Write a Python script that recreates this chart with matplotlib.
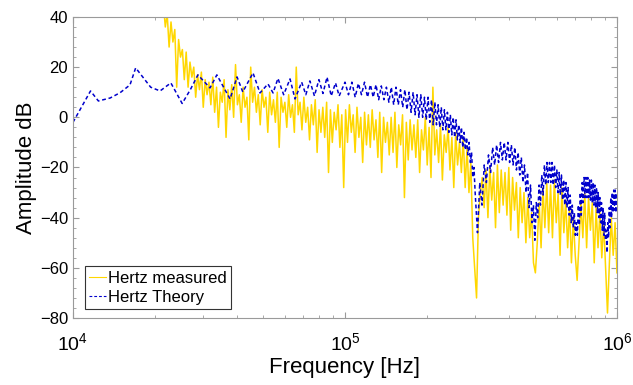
import numpy as np
import matplotlib
matplotlib.use("Agg")
import matplotlib.pyplot as plt
from matplotlib.ticker import AutoMinorLocator, LogLocator, NullFormatter

plt.rcParams['font.family'] = ['Liberation Sans', 'DejaVu Sans']

# theory: low-frequency part, read peak by peak (kHz, dB)
theory_f_low = [10, 11.6, 12.4, 13.7, 14.9, 16.2, 17.0, 19.3, 20.9, 22.9, 25.2, 27.0,
                28.8, 31.9, 33.8, 37.8, 40.1, 42.1, 45.9, 48.7, 52.1, 54.4, 56.7, 59.5,
                62.8, 65.5, 69.3, 71.8, 74.3, 77.2, 80.2, 83.0, 85.9, 89.0, 92.3, 95.2]
theory_db_low = [-2, 10.5, 6.5, 7.7, 9.8, 12.9, 19.7, 12, 10.5, 13.7, 5.5, 11,
                 16.9, 11.7, 16.9, 7.3, 16.1, 10.1, 17.7, 9.7, 13.3, 9.7, 15.5, 9,
                 15.3, 7.3, 14, 9, 14.5, 8.5, 15, 9.5, 16, 8.5, 13.7, 8.5]

# theory: 100-298 kHz, 3 kHz bins (upper / lower of the ripple)
theory_f_mid = np.arange(100, 299, 3)
theory_db_mid = [14, 9, 14, 8, 13.5, 9, 14, 8, 13, 8, 13, 7, 12.5, 7, 12, 6, 12, 5, 12, 5,
                 11, 4, 11, 3, 10, 2, 10, 1, 9, 0, 9, 0, 8, -1, 8, -2, 7, -3, 6, -3,
                 5, -4, 4, -5, 3, -5, 2, -6, 1, -7, 0, -8, -1, -9, -3, -10, -4, -12, -6, -13,
                 -8, -15, -10, -18, -14, -24, -20]

# theory: 301-997 kHz, 6 kHz bins
theory_f_high = np.arange(301, 998, 6)
theory_db_high = [-30, -46, -26, -35, -19, -26, -15, -22, -12, -19,
                  -11, -18, -10, -17, -10, -17, -10, -18, -11, -19,
                  -12, -21, -14, -23, -16, -26, -19, -30, -22, -36,
                  -27, -42, -35, -49, -34, -40, -27, -35, -23, -31,
                  -19, -27, -18, -26, -18, -26, -18, -27, -19, -28,
                  -21, -30, -22, -31, -23, -33, -25, -35, -26, -36,
                  -28, -39, -31, -42, -35, -44, -38, -47, -42, -47,
                  -35, -43, -30, -39, -26, -34, -24, -32, -24, -32,
                  -24, -32, -25, -33, -25, -34, -26, -35, -27, -36,
                  -28, -38, -30, -40, -32, -42, -34, -45, -36, -47,
                  -38, -49, -45, -54, -42, -48, -36, -44, -32, -40,
                  -30, -38, -29, -37, -29, -38, -30]

# measured: 240 bins, log spaced 21.5 kHz .. 1 MHz
meas_db = [45, 36, 41, 28, 38, 30, 35, 12, 31, 24, 27, 15,
           26, 12, 22, 16, 20, 8, 17, 11, 18, 4, 15, 9,
           14, 5, 16, 2, 12, -4, 10, 6, 15, -8, 11, 3,
           13, 0, 21, 5, 9, -2, 12, 4, 8, -9, 20, 6,
           12, 2, 9, -3, 11, 4, 8, -6, 10, 1, 7, -2,
           10, -12, 8, 2, 6, -4, 9, 0, 5, -6, 20, 1,
           6, -5, 8, -2, 4, -9, 5, -3, 7, -14, 3, -6,
           4, -8, 6, -22, 3, -10, 2, -5, 5, -12, 1, -28,
           3, -10, 5, -6, 1, -14, 4, -8, 0, -18, 2, -11,
           1, -12, 3, -9, -1, -16, 2, -22, 0, -10, -2, -15,
           0, -14, 2, -20, -3, -11, 1, -32, -2, -17, -1, -13,
           -3, -16, -1, -22, -5, -13, 0, -19, -4, -24, 12, -15,
           -5, -18, -3, -25, -7, -14, -4, -21, -8, -28, -6, -19,
           -10, -22, -8, -28, -12, -30, -18, -48, -60, -72, -40, -30,
           -24, -36, -21, -40, -20, -33, -22, -44, -19, -38, -21, -35,
           -22, -39, -20, -45, -24, -37, -26, -48, -28, -42, -30, -50,
           -32, -48, -38, -58, -62, -50, -34, -52, -28, -44, -26, -46,
           -27, -48, -25, -42, -30, -55, -28, -46, -33, -52, -36, -58,
           -40, -55, -65, -50, -34, -48, -30, -52, -32, -45, -34, -58,
           -36, -52, -38, -56, -42, -60, -78, -58, -40, -55, -42, -62]
meas_f = np.geomspace(21.5e3, 1e6, len(meas_db))

theory_f = np.concatenate([theory_f_low, theory_f_mid, theory_f_high]) * 1e3
theory_db = np.concatenate([theory_db_low, theory_db_mid, theory_db_high])

fig = plt.figure(figsize=(6.33, 3.85), dpi=100)
ax = fig.add_axes([0.1153, 0.174, 0.8594, 0.782])

ax.plot(meas_f, meas_db, color='#FFD700', lw=1.1, label='Hertz measured')
ax.plot(theory_f, theory_db, color='#0000CC', lw=1.1, ls=(0, (2.5, 1.8)),
        label='Hertz Theory')

ax.set_xscale('log')
ax.set_xlim(1e4, 1e6)
ax.set_ylim(-80, 40)
ax.set_yticks(np.arange(-80, 41, 20))
ax.yaxis.set_minor_locator(AutoMinorLocator(5))
ax.xaxis.set_major_locator(LogLocator(base=10, numticks=5))
ax.xaxis.set_minor_locator(LogLocator(base=10, subs=np.arange(2, 10), numticks=20))
ax.xaxis.set_minor_formatter(NullFormatter())

ax.tick_params(which='both', direction='in', top=True, right=True, colors='#9a9a9a',
               labelcolor='black', labelsize=12)
ax.tick_params(axis='x', which='major', labelsize=14, pad=10)
ax.tick_params(which='major', length=4)
ax.tick_params(which='minor', length=2)
for s in ax.spines.values():
    s.set_color('#9a9a9a')
    s.set_linewidth(0.8)

ax.set_xlabel('Frequency [Hz]', fontsize=16, labelpad=2)
ax.set_ylabel('Amplitude dB', fontsize=16, labelpad=2)

leg = ax.legend(loc='lower left', bbox_to_anchor=(0.022, 0.03), fontsize=12,
                fancybox=False, framealpha=1, edgecolor='#333333',
                handlelength=1.0, handletextpad=0.15, borderpad=0.25,
                labelspacing=0.25, borderaxespad=0)
leg.get_frame().set_linewidth(0.8)
for h in leg.get_lines():
    h.set_linewidth(0.8)

fig.savefig('out.png', dpi=100)
